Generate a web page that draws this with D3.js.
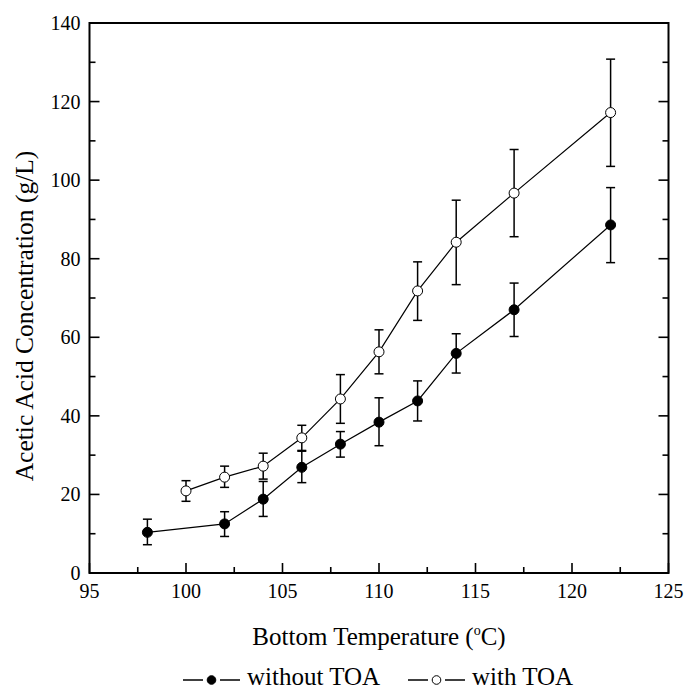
<!DOCTYPE html>
<html><head><meta charset="utf-8">
<script src="https://cdn.jsdelivr.net/npm/d3@7"></script>
<style>body{margin:0;background:#fff}svg{display:block}text{font-family:"Liberation Serif","Times New Roman",serif;fill:#000}</style>
</head><body><svg id="c" width="687" height="690"></svg>
<script>
const temps1 = [98,102,104,106,108,110,112,114,117,122];
const without = [10.35,12.5,18.8,26.9,32.8,38.4,43.8,55.9,67.0,88.6];
const withoutLo = [7.2,9.3,14.4,23.0,29.5,32.4,38.7,50.9,60.2,79.0];
const withoutHi = [13.7,15.6,23.3,31.0,36.0,44.6,48.9,60.9,73.8,98.1];
const temps2 = [100,102,104,106,108,110,112,114,117,122];
const withT = [20.9,24.4,27.2,34.4,44.3,56.3,71.8,84.2,96.7,117.2];
const withLo = [18.25,21.8,23.9,31.2,38.1,50.7,64.3,73.4,85.6,103.5];
const withHi = [23.5,27.2,30.5,37.6,50.5,61.9,79.2,94.9,107.8,130.8];
const xTicks = [95,100,105,110,115,120,125];
const yTicks = [0,20,40,60,80,100,120,140];

const svg = d3.select("#c");
const L=89.5, R=668.5, T=23, B=573;
const x = d3.scaleLinear().domain([95,125]).range([L,R]);
const y = d3.scaleLinear().domain([0,140]).range([B,T]);
const fs = 20;

const xMinor = d3.range(97.5,125,5);
const yMinor = d3.range(10,140,20);
const g = svg.append("g").attr("stroke","#000").attr("stroke-width",1.6);
xTicks.forEach(v=>{ g.append("line").attr("x1",x(v)).attr("x2",x(v)).attr("y1",B).attr("y2",B-10); });
xMinor.forEach(v=>{ g.append("line").attr("x1",x(v)).attr("x2",x(v)).attr("y1",B).attr("y2",B-6); });
yTicks.forEach(v=>{ g.append("line").attr("x1",L).attr("x2",L+10).attr("y1",y(v)).attr("y2",y(v));
  g.append("line").attr("x1",R).attr("x2",R-10).attr("y1",y(v)).attr("y2",y(v)); });
yMinor.forEach(v=>{ g.append("line").attr("x1",L).attr("x2",L+6).attr("y1",y(v)).attr("y2",y(v));
  g.append("line").attr("x1",R).attr("x2",R-6).attr("y1",y(v)).attr("y2",y(v)); });

svg.append("rect").attr("x",L).attr("y",T).attr("width",R-L).attr("height",B-T)
  .attr("fill","none").attr("stroke","#000").attr("stroke-width",2);

xTicks.forEach(v=>svg.append("text").attr("x",x(v)).attr("y",B+25).attr("text-anchor","middle").attr("font-size",fs).text(v));
yTicks.forEach(v=>svg.append("text").attr("x",L-9).attr("y",y(v)+7).attr("text-anchor","end").attr("font-size",fs).text(v));

svg.append("text").attr("transform",`translate(33,316) rotate(-90)`).attr("text-anchor","middle")
  .attr("font-size",25.5).text("Acetic Acid Concentration (g/L)");
const xt = svg.append("text").attr("x",(L+R)/2).attr("y",645).attr("text-anchor","middle").attr("font-size",25);
xt.append("tspan").text("Bottom Temperature (");
xt.append("tspan").attr("font-size",14).attr("dy",-10).text("o");
xt.append("tspan").attr("dy",10).text("C)");

function series(xs, ys, lo, hi, fill){
  const line = d3.line().x((d,i)=>x(xs[i])).y(d=>y(d));
  svg.append("path").attr("d",line(ys)).attr("fill","none").attr("stroke","#000").attr("stroke-width",1.2);
  const eg = svg.append("g").attr("stroke","#000").attr("stroke-width",1.5);
  xs.forEach((t,i)=>{
    eg.append("line").attr("x1",x(t)).attr("x2",x(t)).attr("y1",y(lo[i])).attr("y2",y(hi[i]));
    [lo[i],hi[i]].forEach(v=>eg.append("line").attr("x1",x(t)-4.5).attr("x2",x(t)+4.5).attr("y1",y(v)).attr("y2",y(v)));
  });
  svg.append("g").selectAll("circle").data(ys).join("circle")
    .attr("cx",(d,i)=>x(xs[i])).attr("cy",d=>y(d)).attr("r",5)
    .attr("fill",fill).attr("stroke","#000").attr("stroke-width",1);
}
series(temps1, without, withoutLo, withoutHi, "#000");
series(temps2, withT, withLo, withHi, "#fff");

// legend
const ly = 685;
function legend(x0, fill, label){
  const lg = svg.append("g");
  lg.append("line").attr("x1",x0).attr("x2",x0+20).attr("y1",ly-5).attr("y2",ly-5).attr("stroke","#000").attr("stroke-width",1.5);
  lg.append("line").attr("x1",x0+37).attr("x2",x0+57).attr("y1",ly-5).attr("y2",ly-5).attr("stroke","#000").attr("stroke-width",1.5);
  lg.append("circle").attr("cx",x0+28.5).attr("cy",ly-5).attr("r",4.3).attr("fill",fill).attr("stroke","#000").attr("stroke-width",1);
  lg.append("text").attr("x",x0+64).attr("y",ly).attr("font-size",25).text(label);
}
legend(183,"#000","without TOA");
legend(408,"#fff","with TOA");
</script></body></html>
